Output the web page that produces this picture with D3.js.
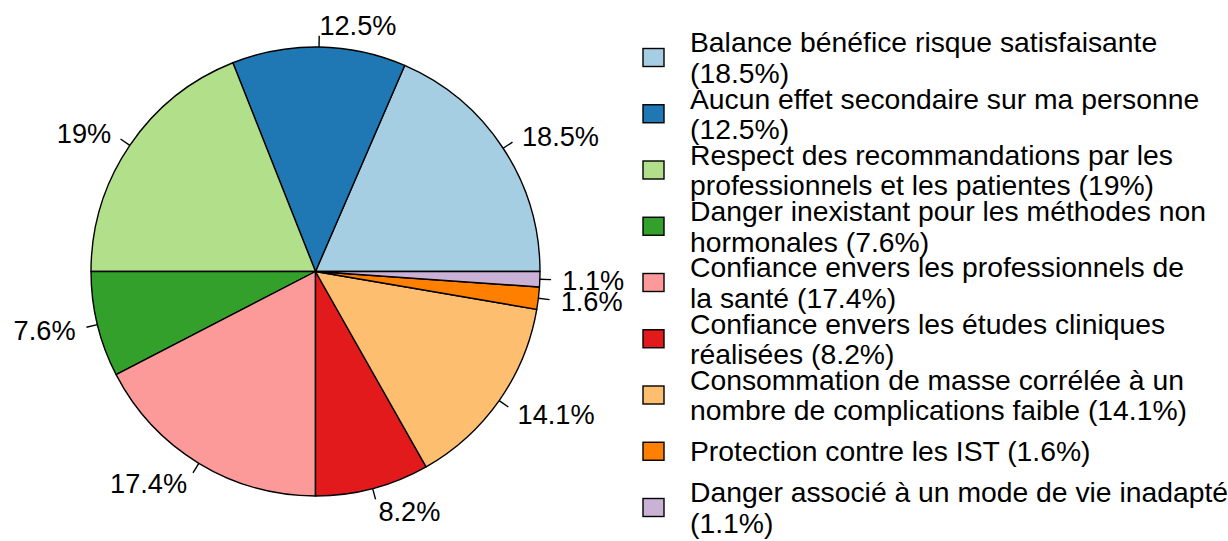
<!DOCTYPE html>
<html>
<head>
<meta charset="utf-8">
<script src="https://cdn.jsdelivr.net/npm/d3@7"></script>
<style>
  html, body { margin: 0; padding: 0; background: #fff; overflow: hidden; }
  svg { display: block; font-family: "Liberation Sans", Arial, sans-serif; }
</style>
</head>
<body>
<svg id="chart" width="1228" height="541"></svg>
<script>
const categories = [
  "Balance bénéfice risque satisfaisante",
  "Aucun effet secondaire sur ma personne",
  "Respect des recommandations par les professionnels et les patientes",
  "Danger inexistant pour les méthodes non hormonales",
  "Confiance envers les professionnels de la santé",
  "Confiance envers les études cliniques réalisées",
  "Consommation de masse corrélée à un nombre de complications faible",
  "Protection contre les IST",
  "Danger associé à un mode de vie inadapté"
];
const values = [18.5, 12.5, 19, 7.6, 17.4, 8.2, 14.1, 1.6, 1.1];
const colors = ["#A6CEE3", "#1F78B4", "#B2DF8A", "#33A02C", "#FB9A99", "#E31A1C", "#FDBF6F", "#FF7F00", "#CAB2D6"];
const legendLabels = [
  "Balance bénéfice risque satisfaisante\n(18.5%)",
  "Aucun effet secondaire sur ma personne\n(12.5%)",
  "Respect des recommandations par les\nprofessionnels et les patientes (19%)",
  "Danger inexistant pour les méthodes non\nhormonales (7.6%)",
  "Confiance envers les professionnels de\nla santé (17.4%)",
  "Confiance envers les études cliniques\nréalisées (8.2%)",
  "Consommation de masse corrélée à un\nnombre de complications faible (14.1%)",
  "Protection contre les IST (1.6%)",
  "Danger associé à un mode de vie inadapté\n(1.1%)"
];

const svg = d3.select("#chart");
const cx = 315.5, cy = 271.5, r = 224.5;
const labelFont = 27.2;
const legendFont = 28.3;

const data = values.map((v, i) => ({ cat: categories[i], value: v, color: colors[i], label: v + "%" }));

// R-style pie: start at 3 o'clock, counter-clockwise
const pie = d3.pie().sort(null).value(d => d.value)
  .startAngle(Math.PI / 2).endAngle(Math.PI / 2 - 2 * Math.PI);
const arcs = pie(data);
const arc = d3.arc().innerRadius(0).outerRadius(r);

const g = svg.append("g").attr("transform", `translate(${cx},${cy})`);
g.selectAll("path.slice").data(arcs).join("path")
  .attr("class", "slice")
  .attr("d", arc)
  .attr("fill", d => d.data.color)
  .attr("stroke", "#000")
  .attr("stroke-width", 1.4)
  .attr("stroke-linejoin", "round");

const mid = d => (d.startAngle + d.endAngle) / 2;
const pt = (a, rr) => [Math.sin(a) * rr, -Math.cos(a) * rr];
g.selectAll("line.tick").data(arcs).join("line")
  .attr("class", "tick")
  .attr("x1", d => pt(mid(d), r)[0])
  .attr("y1", d => pt(mid(d), r)[1])
  .attr("x2", d => pt(mid(d), r * 1.05)[0])
  .attr("y2", d => pt(mid(d), r * 1.05)[1])
  .attr("stroke", "#000").attr("stroke-width", 1.4);

g.selectAll("text.lbl").data(arcs).join("text")
  .attr("class", "lbl")
  .attr("x", d => pt(mid(d), r * 1.1)[0])
  .attr("y", d => pt(mid(d), r * 1.1)[1])
  .attr("dy", "0.38em")
  .attr("text-anchor", d => pt(mid(d), 1)[0] < 0 ? "end" : "start")
  .attr("font-size", labelFont)
  .attr("fill", "#000")
  .text(d => d.data.label);

// Legend
const legendY = d3.scalePoint().domain(d3.range(categories.length)).range([57.5, 507.5]);
const lg = svg.append("g");
const items = lg.selectAll("g.item").data(legendLabels).join("g")
  .attr("class", "item")
  .attr("transform", (d, i) => `translate(0,${legendY(i)})`);
items.append("rect")
  .attr("x", 643).attr("y", -9).attr("width", 21).attr("height", 18)
  .attr("fill", (d, i) => colors[i])
  .attr("stroke", "#000").attr("stroke-width", 1.4);
const lineH = 30.5;
items.append("text")
  .attr("font-size", legendFont)
  .attr("fill", "#000")
  .each(function(d) {
    const lines = d.split("\n");
    const t = d3.select(this);
    lines.forEach((ln, k) => {
      t.append("tspan")
        .attr("x", 690)
        .attr("y", (k - (lines.length - 1) / 2) * lineH)
        .attr("dy", "0.36em")
        .text(ln);
    });
  });
</script>
</body>
</html>
